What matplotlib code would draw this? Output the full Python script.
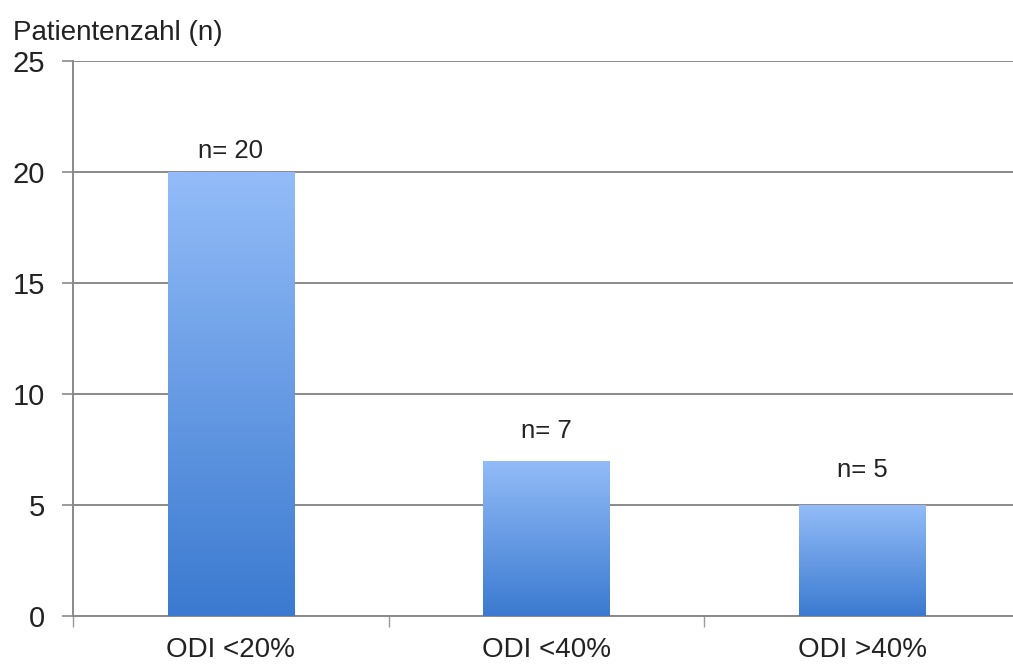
import numpy as np
import matplotlib
matplotlib.use("Agg")
import matplotlib.pyplot as plt
from matplotlib.colors import LinearSegmentedColormap

categories = ["ODI <20%", "ODI <40%", "ODI >40%"]
counts = [20, 7, 5]
value_labels = ["n= 20", "n= 7", "n= 5"]
y_ticks = [0, 5, 10, 15, 20, 25]

plt.rcParams["font.family"] = ["Liberation Sans", "DejaVu Sans"]

fig = plt.figure(figsize=(10.13, 6.66), dpi=100)
ax = fig.add_axes([0.072, 0.0751, 0.935, 0.8333])

x = np.arange(len(categories))
bars = ax.bar(x, counts, width=0.4, color="none", edgecolor="none", zorder=3)

# vertical blue gradient inside each bar: light at the top, darker at the base
cmap = LinearSegmentedColormap.from_list("bar_grad", ["#3b7ad0", "#93bcf8"])
grad = np.linspace(0, 1, 256).reshape(-1, 1)
for b in bars:
    x0, y0 = b.get_x(), b.get_y()
    w, h = b.get_width(), b.get_height()
    im = ax.imshow(grad, cmap=cmap, origin="lower", aspect="auto",
                   extent=[x0, x0 + w, y0, y0 + h], zorder=3)
    im.set_clip_path(b)

# value labels floating above the bars
label_gap = [0.65, 1.0, 1.25]
for xi, v, lab, g in zip(x, counts, value_labels, label_gap):
    ax.text(xi, v + g, lab, ha="center", va="baseline", fontsize=18.5, color="#222222")

ax.set_xlim(-0.5, 2.5)
ax.set_ylim(0, 25)
ax.set_yticks(y_ticks)
ax.set_yticklabels([str(t) for t in y_ticks], fontsize=21, color="#222222")
ax.yaxis.grid(True, color="#8a8a8a", linewidth=1.4, zorder=1)
ax.set_axisbelow(True)

ax.set_xticks(x)
ax.set_xticklabels(categories, fontsize=20, color="#222222")
ax.tick_params(axis="x", length=0, pad=15)
ax.set_xticks([-0.5, 0.5, 1.5], minor=True)
ax.tick_params(axis="x", which="minor", length=8, width=1, color="#9a9a9a", direction="out")
ax.tick_params(axis="y", length=8, width=1.2, color="#8a8a8a", pad=12)

for s in ["top", "right"]:
    ax.spines[s].set_visible(False)
ax.spines["left"].set_color("#8a8a8a")
ax.spines["left"].set_linewidth(1.4)
ax.spines["bottom"].set_color("#8a8a8a")
ax.spines["bottom"].set_linewidth(1.4)

fig.text(0.013, 0.94, "Patientenzahl (n)", fontsize=20, color="#222222",
         ha="left", va="baseline")

fig.savefig("out.png", dpi=100, facecolor="white")
